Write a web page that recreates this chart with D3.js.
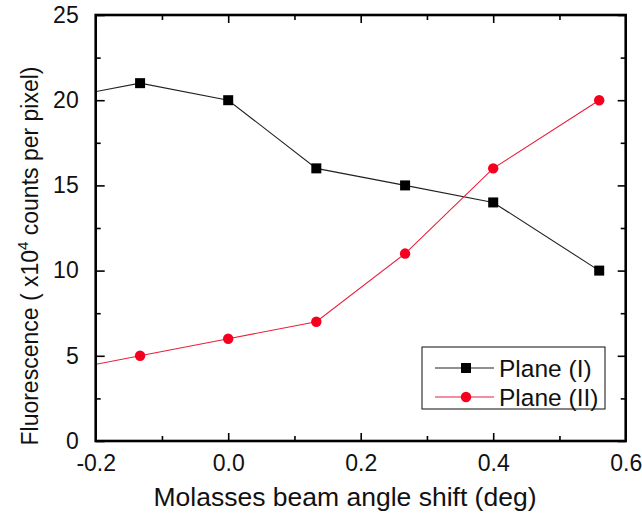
<!DOCTYPE html>
<html><head><meta charset="utf-8">
<script src="https://cdn.jsdelivr.net/npm/d3@7"></script>
<style>
html,body{margin:0;padding:0;background:#fff;}
svg{display:block;font-family:"Liberation Sans",Arial,Helvetica,sans-serif;}
</style></head>
<body>
<svg id="chart" width="642" height="524"></svg>
<script>
// Data
const angleShift = [-0.267, -0.133, 0.0, 0.133, 0.267, 0.4, 0.56];
const planeI  = [20, 21, 20, 16, 15, 14, 10];
const planeII = [4, 5, 6, 7, 11, 16, 20];
const seriesNames = ["Plane (I)", "Plane (II)"];
const xTicks = [-0.2, 0.0, 0.2, 0.4, 0.6];
const xMinorTicks = [-0.1, 0.1, 0.3, 0.5];
const yTicks = [0, 5, 10, 15, 20, 25];
const yMinorTicks = [2.5, 7.5, 12.5, 17.5, 22.5];

const svg = d3.select("#chart");
const L = 95.7, R = 625.7, T = 15, B = 441;
const x = d3.scaleLinear().domain([-0.2, 0.6]).range([L, R]);
const y = d3.scaleLinear().domain([0, 25]).range([B, T]);

svg.append("defs").append("clipPath").attr("id","clip")
  .append("rect").attr("x",L).attr("y",T).attr("width",R-L).attr("height",B-T);

const plot = svg.append("g").attr("clip-path","url(#clip)");
const line = d3.line().x((d,i)=>x(angleShift[i])).y(d=>y(d));

plot.append("path").datum(planeI).attr("d",line)
  .attr("fill","none").attr("stroke","#222").attr("stroke-width",1.1);
plot.append("path").datum(planeII).attr("d",line)
  .attr("fill","none").attr("stroke","#e8203c").attr("stroke-width",1.1);

const sq = 10;
plot.selectAll("rect.m1").data(planeI).enter().append("rect")
  .attr("class","m1")
  .attr("x",(d,i)=>x(angleShift[i])-sq/2).attr("y",d=>y(d)-sq/2)
  .attr("width",sq).attr("height",sq).attr("fill","#000");
plot.selectAll("circle.m2").data(planeII).enter().append("circle")
  .attr("class","m2")
  .attr("cx",(d,i)=>x(angleShift[i])).attr("cy",d=>y(d))
  .attr("r",5.2).attr("fill","#f5001e");

// Axes
const fmt = d => d3.format(".1f")(d).replace("\u2212","-");
const axStyle = g => {
  g.select(".domain").remove();
  g.selectAll(".tick line").attr("stroke","#000").attr("stroke-width",1.6);
};
// bottom major
svg.append("g").attr("transform",`translate(0,${B})`)
  .call(d3.axisBottom(x).tickValues(xTicks).tickFormat(fmt).tickSizeInner(-8).tickSizeOuter(0).tickPadding(14))
  .call(axStyle)
  .call(g=>g.selectAll("text").attr("font-size",23).attr("fill","#111").attr("font-family","Liberation Sans, Arial, sans-serif"));
svg.append("g").attr("transform",`translate(0,${B})`)
  .call(d3.axisBottom(x).tickValues(xMinorTicks).tickFormat("").tickSizeInner(-5).tickSizeOuter(0))
  .call(axStyle);
// top mirror
svg.append("g").attr("transform",`translate(0,${T})`)
  .call(d3.axisTop(x).tickValues(xTicks).tickFormat("").tickSizeInner(-8).tickSizeOuter(0))
  .call(axStyle);
svg.append("g").attr("transform",`translate(0,${T})`)
  .call(d3.axisTop(x).tickValues(xMinorTicks).tickFormat("").tickSizeInner(-5).tickSizeOuter(0))
  .call(axStyle);
// left
svg.append("g").attr("transform",`translate(${L},0)`)
  .call(d3.axisLeft(y).tickValues(yTicks).tickFormat(d3.format("d")).tickSizeInner(-9).tickSizeOuter(0).tickPadding(17))
  .call(axStyle)
  .call(g=>g.selectAll("text").attr("font-size",23).attr("fill","#111").attr("font-family","Liberation Sans, Arial, sans-serif"));
svg.append("g").attr("transform",`translate(${L},0)`)
  .call(d3.axisLeft(y).tickValues(yMinorTicks).tickFormat("").tickSizeInner(-5).tickSizeOuter(0))
  .call(axStyle);
// right mirror
svg.append("g").attr("transform",`translate(${R},0)`)
  .call(d3.axisRight(y).tickValues(yTicks).tickFormat("").tickSizeInner(-8).tickSizeOuter(0))
  .call(axStyle);
svg.append("g").attr("transform",`translate(${R},0)`)
  .call(d3.axisRight(y).tickValues(yMinorTicks).tickFormat("").tickSizeInner(-5).tickSizeOuter(0))
  .call(axStyle);

// frame
svg.append("rect").attr("x",L).attr("y",T).attr("width",R-L).attr("height",B-T)
  .attr("fill","none").attr("stroke","#000").attr("stroke-width",2.6);

// Axis titles
svg.append("text").attr("x",345).attr("y",506).attr("text-anchor","middle")
  .attr("font-size",26.5).attr("fill","#111").text("Molasses beam angle shift (deg)");
const yt = svg.append("text").attr("transform","translate(38,256) rotate(-90)")
  .attr("text-anchor","middle").attr("font-size",23).attr("fill","#111");
yt.append("tspan").text("Fluorescence ( x10");
yt.append("tspan").attr("font-size",15).attr("dy",-10).text("4");
yt.append("tspan").attr("dy",10).text(" counts per pixel)");

// Legend
const lg = svg.append("g");
lg.append("rect").attr("x",422).attr("y",347).attr("width",183).attr("height",62)
  .attr("fill","#fff").attr("stroke","#222").attr("stroke-width",1.1);
const rows = [{name:seriesNames[0], y:368, color:"#222", type:"sq"},
              {name:seriesNames[1], y:397, color:"#e8203c", type:"ci"}];
rows.forEach(r=>{
  lg.append("line").attr("x1",435).attr("x2",494).attr("y1",r.y).attr("y2",r.y)
    .attr("stroke",r.color).attr("stroke-width",1.1);
  if(r.type==="sq") lg.append("rect").attr("x",466-sq/2).attr("y",r.y-sq/2).attr("width",sq).attr("height",sq).attr("fill","#000");
  else lg.append("circle").attr("cx",466).attr("cy",r.y).attr("r",5.2).attr("fill","#f5001e");
  lg.append("text").attr("x",499).attr("y",r.y+8.5).attr("font-size",24.5).attr("fill","#111").text(r.name);
});
</script>
</body></html>
